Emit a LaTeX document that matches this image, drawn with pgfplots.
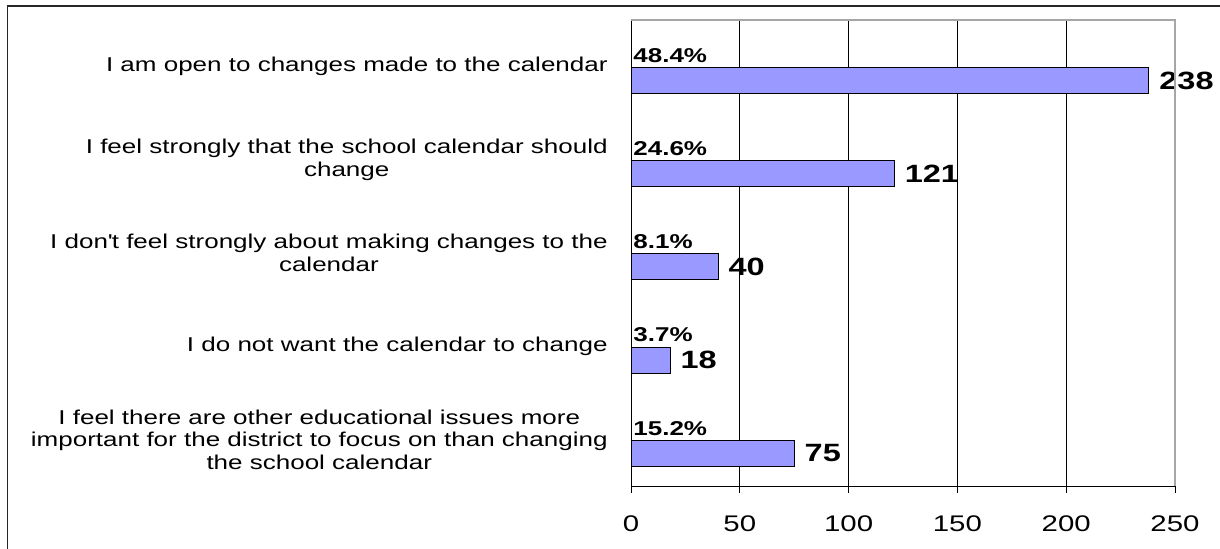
\documentclass[border=0pt]{standalone}
\usepackage{pgfplots}
\pgfplotsset{compat=1.18}
\usepackage{fontspec}
\setmainfont{Liberation Sans}[FakeStretch=1.3]
\definecolor{barblue}{HTML}{9999FF}
\pgfplotsset{/pgf/number format/assume math mode=true}
\begin{document}
\begin{tikzpicture}
\begin{axis}[
  at={(315.5pt,31pt)}, anchor=south west,
  scale only axis, width=272pt, height=233pt,
  xmin=0, xmax=250, ymin=0.5, ymax=5.5,
  axis lines*=left,
  axis line style={black, line width=0.5pt},
  tick align=outside,
  xtick={0,50,...,250},
  major tick length=3.5pt,
  minor tick length=4pt,
  tick style={black, line width=0.5pt},
  ytick={1,2,3,4,5},
  ytick style={draw=none},
  minor ytick={0.5,1.5,...,5.5},
  yticklabels={
    {I feel there are other educational issues more\\important for the district to focus on than changing\\the school calendar},
    {I do not want the calendar to change},
    {I don\textquotesingle t feel strongly about making changes to the\\calendar},
    {I feel strongly that the school calendar should\\change},
    {I am open to changes made to the calendar}},
  yticklabel style={font=\fontsize{10}{11.25}\selectfont, align=center, inner sep=0pt, xshift=-8pt},
  xticklabel style={font=\fontsize{11.3}{13}\selectfont, inner sep=0pt, yshift=-11pt},
  xmajorgrids,
  major grid style={black, line width=0.5pt},
  clip=false,
  after end axis/.code={
    \draw[gray!70, line width=0.6pt] (rel axis cs:0,1) -- (rel axis cs:1,1) -- (rel axis cs:1,0);
  },
]
\addplot[xbar, bar width=13pt, bar shift=0pt, fill=barblue, draw=black, line width=0.5pt,
  point meta=x, nodes near coords,
  nodes near coords style={anchor=west, font=\fontsize{12.5}{14}\selectfont\bfseries, inner sep=0pt, xshift=5pt}]
  coordinates {(238,4.85) (121,3.85) (40,2.85) (18,1.85) (75,0.85)};
\addplot[draw=none, mark=none, point meta=explicit symbolic, nodes near coords,
  nodes near coords style={anchor=west, font=\fontsize{10}{11}\selectfont\bfseries, inner sep=0pt, xshift=1pt}]
  coordinates {(0,5.12) [48.4\%] (0,4.12) [24.6\%] (0,3.12) [8.1\%] (0,2.12) [3.7\%] (0,1.12) [15.2\%]};
\end{axis}
\draw[black!85, line width=0.75pt] (3.75pt,-20pt) -- (3.75pt,271pt) -- (640pt,271pt);
\pgfresetboundingbox
\path[use as bounding box] (0,0) rectangle (610pt,274pt);
\end{tikzpicture}
\end{document}
